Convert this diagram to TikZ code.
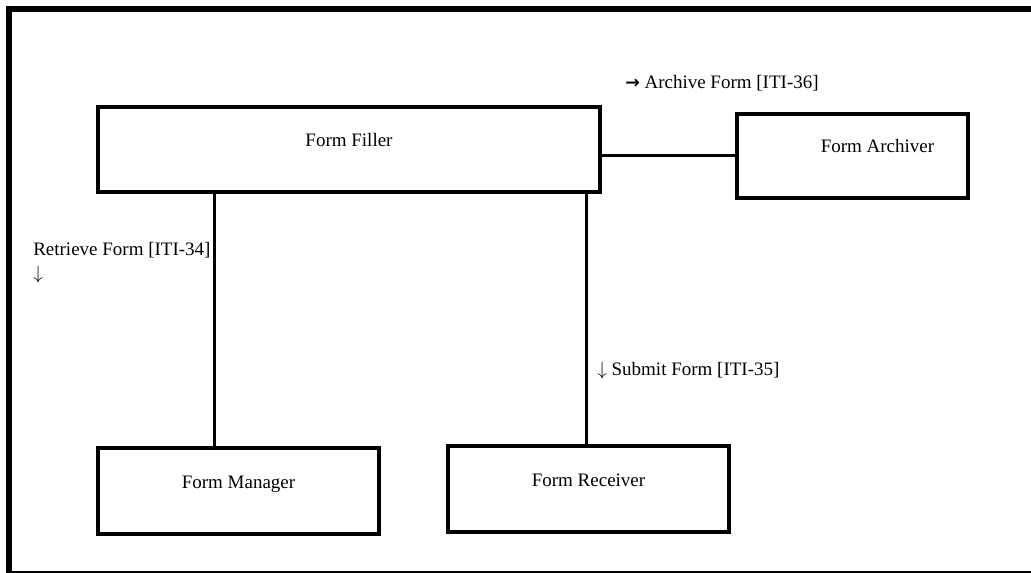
\documentclass[tikz,border=0pt]{standalone}
\usepackage{fontspec}
\setmainfont{Liberation Serif}
\newfontfamily\rarrfont{DejaVu Sans}
\begin{document}
\begin{tikzpicture}[x=0.75pt,y=-0.75pt,
  every node/.style={font=\fontsize{14.25pt}{18pt}\selectfont},
  boxnode/.style={draw=black,line width=3pt,rectangle,inner sep=0pt,
    text height=6pt,text depth=10.5pt,fill=white},
  conn/.style={draw=black,line width=2.25pt},
  lbl/.style={inner sep=0pt}]
\useasboundingbox (0,0) rectangle (1031,573);
\clip (0,0) rectangle (1031,573);
% outer frame
\draw[line width=4.5pt,line join=miter] (9,580) -- (9,9) -- (1040,9);
\draw[line width=1.125pt] (9,571.75) -- (1040,571.75);
% coordinates for vertical connectors
\coordinate (m1) at (214,0);
\coordinate (r1) at (586,0);
% boxes
\node[boxnode,minimum width=376.5pt,minimum height=63.75pt] (filler) at (349,149.5) {Form Filler};
\node[boxnode,minimum width=173.25pt,minimum height=63pt] (archiver) at (852.5,156) {\hspace*{37.5pt}Form Archiver};
\node[boxnode,minimum width=210.75pt,minimum height=64.5pt] (manager) at (238.5,491) {Form Manager};
\node[boxnode,minimum width=210.75pt,minimum height=64.5pt] (receiver) at (588.5,489) {Form Receiver};
% connectors
\draw[conn] (filler.east |- archiver.west) -- (archiver.west);
\draw[conn] (filler.south -| m1) -- (manager.north -| m1);
\draw[conn] (filler.south -| r1) -- (receiver.north -| r1);
% labels
\node[lbl,anchor=base west] (l36) at (625,89) {{\rarrfont\bfseries\fontsize{13pt}{14pt}\selectfont →} Archive Form [ITI-36]};
\node[lbl,anchor=north west,align=left] (l34) at (33,242) {Retrieve Form [ITI-34]\\$\downarrow$};
\node[lbl,anchor=base west] (l35) at (597,375) {$\downarrow$ Submit Form [ITI-35]};
\end{tikzpicture}
\end{document}
